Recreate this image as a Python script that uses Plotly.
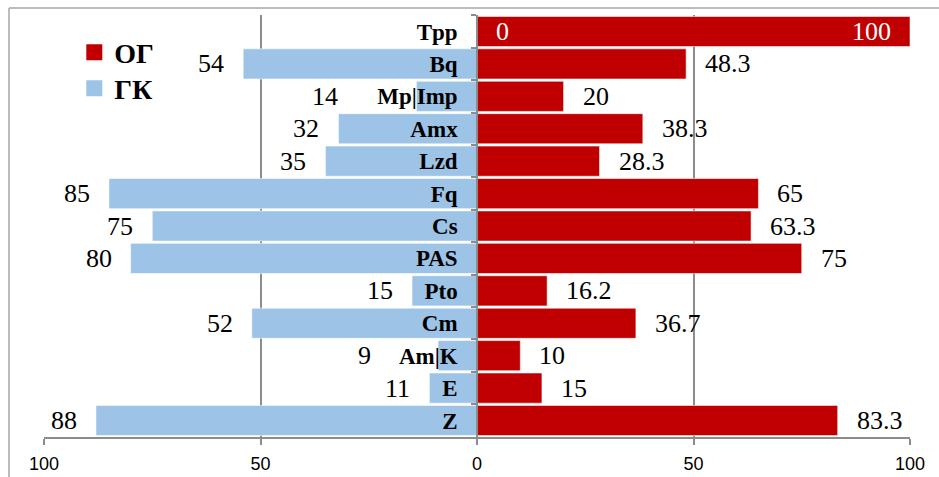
import plotly.graph_objects as go

# Drug categories, top to bottom
drugs = ["Tpp", "Bq", "Mp|Imp", "Amx", "Lzd", "Fq", "Cs", "PAS", "Pto", "Cm", "Am|K", "E", "Z"]
# Percentages per group
og_values = [100, 48.3, 20, 38.3, 28.3, 65, 63.3, 75, 16.2, 36.7, 10, 15, 83.3]
gk_values = [0, 54, 14, 32, 35, 85, 75, 80, 15, 52, 9, 11, 88]
x_ticks = [-100, -50, 0, 50, 100]
x_tick_text = ["100", "50", "0", "50", "100"]

RED = "#C00000"
BLUE = "#9DC3E6"
GRID = "#8c8c8c"
SERIF = "'Liberation Serif', 'Times New Roman', Times, 'DejaVu Serif', serif"
LABEL_GAP = 17
# short left bars whose value label must clear the long category name
LEFT_LABEL_NUDGE = {"Mp|Imp": -59, "Am|K": -48}


def fmt(v):
    return f"{v:g}"


fig = go.Figure()

fig.add_trace(go.Bar(
    y=drugs, x=[-v for v in gk_values], orientation="h",
    marker=dict(color=BLUE, line=dict(color="rgba(255,255,255,0.7)", width=0.8)),
    showlegend=False, hoverinfo="skip",
))
fig.add_trace(go.Bar(
    y=drugs, x=og_values, orientation="h",
    marker=dict(color=RED, line=dict(color="rgba(255,255,255,0.7)", width=0.8)),
    showlegend=False, hoverinfo="skip",
))

# Legend entries with larger square swatches, one legend box each
fig.add_trace(go.Scatter(
    x=[None], y=[None], mode="markers", name="ОГ", legend="legend",
    marker=dict(symbol="square", size=16, color=RED),
))
fig.add_trace(go.Scatter(
    x=[None], y=[None], mode="markers", name="ГК", legend="legend2",
    marker=dict(symbol="square", size=16, color=BLUE),
))

annotations = []
val_font = dict(family=SERIF, size=26, color="black")
white_font = dict(family=SERIF, size=26, color="white")
for name, og, gk in zip(drugs, og_values, gk_values):
    if og >= 100:
        # full-width bar: both values written inside it
        annotations.append(dict(x=og, y=name, text=fmt(og), showarrow=False,
                                xanchor="right", xshift=-LABEL_GAP, font=white_font))
        annotations.append(dict(x=0, y=name, text=fmt(gk), showarrow=False,
                                xanchor="left", xshift=LABEL_GAP, font=white_font))
        continue
    annotations.append(dict(x=og, y=name, text=fmt(og), showarrow=False,
                            xanchor="left", xshift=LABEL_GAP, font=val_font))
    annotations.append(dict(x=-gk, y=name, text=fmt(gk), showarrow=False,
                            xanchor="right",
                            xshift=-LABEL_GAP + LEFT_LABEL_NUDGE.get(name, 0),
                            font=val_font))

shapes = [
    # outer frame (top and left edges)
    dict(type="line", xref="paper", yref="paper", x0=-0.0404, x1=1.04, y0=1.0166, y1=1.0166,
         line=dict(color="#a6a6a6", width=1.5)),
    dict(type="line", xref="paper", yref="paper", x0=-0.0404, x1=-0.0404, y0=1.0166, y1=-0.1,
         line=dict(color="#a6a6a6", width=1.5)),
]

legend_style = dict(
    xanchor="left", yanchor="top",
    bgcolor="rgba(0,0,0,0)",
    font=dict(family=SERIF, size=28, color="black", weight="bold"),
    itemsizing="trace",
)

fig.update_layout(
    width=939, height=477,
    margin=dict(l=44, r=29, t=15, b=40),
    paper_bgcolor="white", plot_bgcolor="white",
    barmode="relative", bargap=0.07,
    annotations=annotations, shapes=shapes,
    legend=dict(x=0.035, y=0.97, **legend_style),
    legend2=dict(x=0.035, y=0.97 - 36 / 422, **legend_style),
    xaxis=dict(
        range=[-100, 100], tickvals=x_ticks, ticktext=x_tick_text,
        showgrid=True, gridcolor=GRID, gridwidth=1.5,
        zeroline=False,
        showline=True, linecolor=GRID, linewidth=1.5,
        ticks="outside", ticklen=6, tickcolor=GRID, tickwidth=1.5,
        ticklabelstandoff=4, automargin=False,
        tickfont=dict(family="Liberation Sans", size=18, color="black"),
        fixedrange=True,
    ),
    yaxis=dict(
        type="category", categoryorder="array", categoryarray=drugs,
        autorange="reversed",
        anchor="free", position=0.5,
        showline=True, linecolor=GRID, linewidth=1.5,
        showgrid=False, zeroline=False,
        ticks="outside", tickson="boundaries", ticklen=5, tickcolor=GRID, tickwidth=1.5,
        ticklabelstandoff=14, automargin=False,
        tickfont=dict(family=SERIF, size=23, color="black", weight="bold"),
        fixedrange=True,
    ),
)

fig.write_html("out.html")
